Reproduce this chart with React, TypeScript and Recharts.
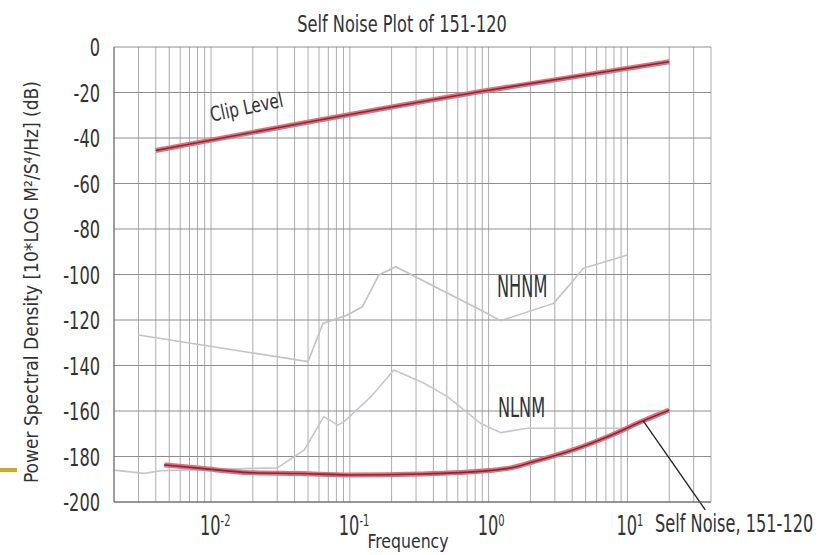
import React from 'react';
import { LineChart, Line, XAxis, YAxis, CartesianGrid, ReferenceLine } from 'recharts';

// frequency grid (Hz) and the decades that get a label
const gridFreqs = [
  0.002, 0.003, 0.004, 0.005, 0.006, 0.007, 0.008, 0.009,
  0.01, 0.02, 0.03, 0.04, 0.05, 0.06, 0.07, 0.08, 0.09,
  0.1, 0.2, 0.3, 0.4, 0.5, 0.6, 0.7, 0.8, 0.9,
  1, 2, 3, 4, 5, 6, 7, 8, 9,
  10, 20, 30, 40,
];
const decadeFreqs = [0.01, 0.1, 1, 10];
const decadeExps = ['-2', '-1', '0', '1'];
const dbTicks = [-200, -180, -160, -140, -120, -100, -80, -60, -40, -20, 0];

const clipLevel = [
  { f: 0.004, db: -45.5 },
  { f: 1, db: -19 },
  { f: 20, db: -6.5 },
];

const selfNoise = [
  { f: 0.0046, db: -183.7 },
  { f: 0.0085, db: -185.2 },
  { f: 0.019, db: -187.1 },
  { f: 0.044, db: -187.5 },
  { f: 0.1, db: -188.1 },
  { f: 0.32, db: -187.7 },
  { f: 1.0, db: -186.2 },
  { f: 1.45, db: -185 },
  { f: 2.1, db: -182.3 },
  { f: 4.1, db: -177 },
  { f: 7.2, db: -171.3 },
  { f: 13, db: -164.3 },
  { f: 20, db: -159.6 },
];

const nhnm = [
  { f: 0.003, db: -126.6 },
  { f: 0.05, db: -138.3 },
  { f: 0.064, db: -121.5 },
  { f: 0.096, db: -117.8 },
  { f: 0.123, db: -114.2 },
  { f: 0.162, db: -100.2 },
  { f: 0.214, db: -96.6 },
  { f: 0.875, db: -115.6 },
  { f: 1.22, db: -120.3 },
  { f: 2.94, db: -112.7 },
  { f: 4.1, db: -102.4 },
  { f: 4.8, db: -97.3 },
  { f: 10, db: -91.4 },
];

const nlnm = [
  { f: 0.002, db: -186 },
  { f: 0.0033, db: -187.4 },
  { f: 0.0044, db: -186.2 },
  { f: 0.03, db: -185 },
  { f: 0.047, db: -177.1 },
  { f: 0.065, db: -162.5 },
  { f: 0.082, db: -166.2 },
  { f: 0.091, db: -164.7 },
  { f: 0.142, db: -153.7 },
  { f: 0.208, db: -142 },
  { f: 0.343, db: -147.8 },
  { f: 0.505, db: -153.7 },
  { f: 0.875, db: -165.4 },
  { f: 1.22, db: -169.5 },
  { f: 1.9, db: -167.6 },
  { f: 10, db: -167.6 },
];

// leader from the self noise curve to its caption
const selfNoiseLeader = [
  { x: 13, y: -164.3 },
  { x: 36.4, y: -203.5 },
];

const FONT = "'DejaVu Sans Condensed', 'Liberation Sans Narrow', sans-serif";
const INK = '#333';

// condensed-looking text: stretched vertically
const Tall = ({ x, y, sy, size, anchor, rotate, children }: any) => (
  <g transform={`translate(${x} ${y})${rotate ? ` rotate(${rotate})` : ''} scale(1 ${sy})`}>
    <text x={0} y={0} textAnchor={anchor || 'start'} fontFamily={FONT} fontSize={size} fill={INK}>
      {children}
    </text>
  </g>
);

const XTick = (props: any) => {
  const { x, y, payload } = props;
  const i = decadeFreqs.indexOf(payload.value);
  if (i < 0) return <g />;
  return (
    <Tall x={x - 11} y={y + 25} sy={1.45} size={18}>
      10
      <tspan dy={-6} fontSize={11}>{decadeExps[i]}</tspan>
    </Tall>
  );
};

const YTick = (props: any) => {
  const { x, y, payload } = props;
  return (
    <Tall x={x} y={y + 9} sy={1.4} size={18} anchor="end">
      {payload.value}
    </Tall>
  );
};

const redLine = (data: any[], key: string) => [
  <Line key={key + 'o'} data={data} dataKey="db" type="monotone" stroke="#e2707c" strokeWidth={5} dot={false} isAnimationActive={false} />,
  <Line key={key + 'i'} data={data} dataKey="db" type="monotone" stroke="#7e2c3a" strokeWidth={1.6} dot={false} isAnimationActive={false} />,
];

export default function App() {
  return (
    <div style={{ position: 'absolute', left: 0, top: 0, width: 825, height: 555, background: '#fff', overflow: 'hidden' }}>
      <LineChart width={825} height={555} margin={{ top: 47, right: 114, bottom: 0, left: 0 }}>
        <CartesianGrid horizontal={false} stroke="#acacac" strokeWidth={1} />
        <CartesianGrid vertical={false} stroke="#8e8e8e" strokeWidth={1} />
        <XAxis
          type="number"
          dataKey="f"
          scale="log"
          domain={[0.002, 40]}
          allowDataOverflow
          ticks={gridFreqs}
          interval={0}
          height={53}
          tickLine={false}
          axisLine={{ stroke: '#666' }}
          tick={<XTick />}
        />
        <YAxis
          type="number"
          domain={[-200, 0]}
          ticks={dbTicks}
          interval={0}
          width={114}
          tickLine={false}
          tickMargin={8}
          axisLine={{ stroke: '#666' }}
          tick={<YTick />}
        />
        <Line data={nhnm} dataKey="db" stroke="#c2c2c2" strokeWidth={1.6} dot={false} isAnimationActive={false} />
        <Line data={nlnm} dataKey="db" stroke="#c4c8cc" strokeWidth={1.6} dot={false} isAnimationActive={false} />
        {redLine(clipLevel, 'clip')}
        {redLine(selfNoise, 'self')}
        <ReferenceLine segment={selfNoiseLeader} stroke="#222" strokeWidth={1.3} ifOverflow="visible" />
      </LineChart>
      <svg width={825} height={555} style={{ position: 'absolute', left: 0, top: 0, pointerEvents: 'none' }}>
        <Tall x={402} y={32} sy={1.3} size={18} anchor="middle">Self Noise Plot of 151-120</Tall>
        <text transform="translate(38 282) rotate(-90)" textAnchor="middle" fontFamily={FONT} fontSize={19} fill={INK}>
          Power Spectral Density [10*LOG M²/S⁴/Hz] (dB)
        </text>
        <Tall x={408} y={548} sy={1.15} size={17.5} anchor="middle">Frequency</Tall>
        <Tall x={248} y={114} sy={1.2} size={17} anchor="middle" rotate={-12}>Clip Level</Tall>
        <Tall x={497} y={297} sy={1.65} size={18}>NHNM</Tall>
        <Tall x={498} y={417} sy={1.5} size={18}>NLNM</Tall>
        <Tall x={655} y={532} sy={1.4} size={18}>Self Noise, 151-120</Tall>
      </svg>
      <div style={{ position: 'absolute', left: 0, top: 468, width: 17, height: 4, background: '#d4a520' }} />
    </div>
  );
}
